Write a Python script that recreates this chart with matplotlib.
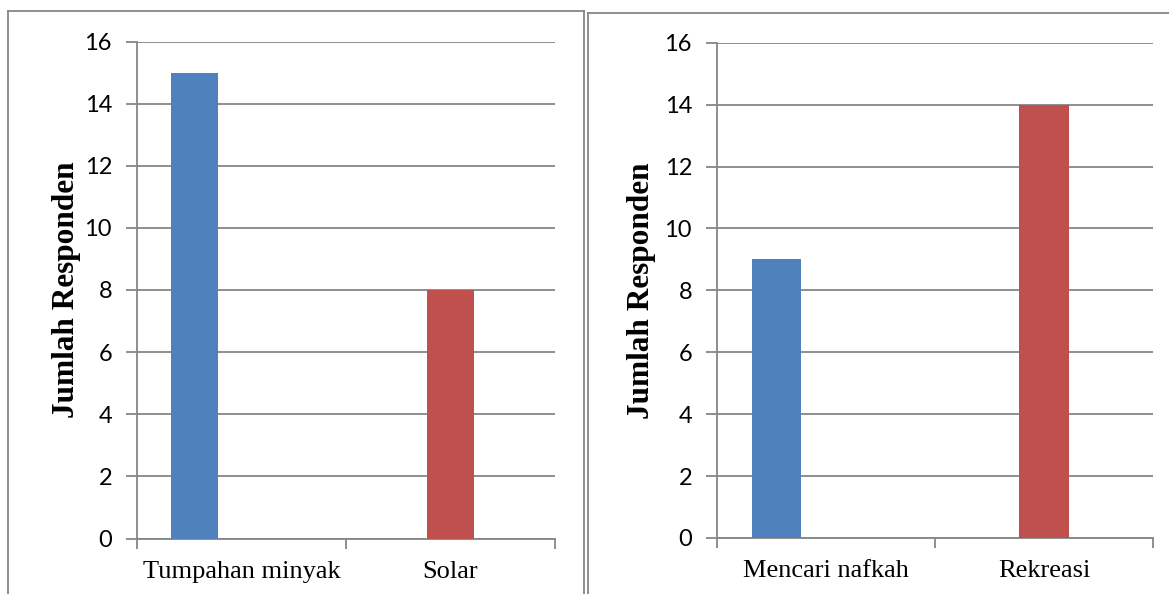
import numpy as np
from matplotlib import pyplot as plt
from matplotlib.lines import Line2D

# data for both panels
kategori_kiri = ["Tumpahan minyak", "Solar"]
nilai_kiri = [15, 8]
kategori_kanan = ["Mencari nafkah", "Rekreasi"]
nilai_kanan = [9, 14]
yticks = [0, 2, 4, 6, 8, 10, 12, 14, 16]
ylabel = "Jumlah Responden"

biru = '#4F81BD'
merah = '#C0504D'
abu = '#868686'

W, H = 1169, 594
fig = plt.figure(figsize=(W/100, H/100), dpi=100)

def px_box(x0, x1, ytop, ybot):
    return [x0/W, 1-ybot/H, (x1-x0)/W, (ybot-ytop)/H]

def frame(x0, x1, ytop):
    # outer border of each chart (bottom/right run off the page)
    kw = dict(color=abu, lw=1.3, transform=fig.transFigure)
    fig.add_artist(Line2D([x0/W, x0/W], [0, 1-ytop/H], **kw))
    fig.add_artist(Line2D([x0/W, x1/W], [1-ytop/H, 1-ytop/H], **kw))
    if x1 < W:
        fig.add_artist(Line2D([x1/W, x1/W], [0, 1-ytop/H], **kw))

def bar_panel(ax, cats, vals, label_x):
    bw = 0.225
    # blue series sits in the left slot, red in the centre slot
    ax.bar([0 - bw], [vals[0]], width=bw, color=biru, zorder=3)
    ax.bar([1], [vals[1]], width=bw, color=merah, zorder=3)
    ax.set_xlim(-0.5, 1.5)
    ax.set_ylim(0, 16)
    ax.set_yticks(yticks)
    ax.set_yticklabels([str(v) for v in yticks], family='Lato', fontsize=17)
    ax.yaxis.grid(True, color=abu, lw=1.3, zorder=0)
    ax.tick_params(axis='y', direction='out', length=8, width=1.3, color=abu, pad=10)
    ax.set_xticks([-0.5, 0.5, 1.5])
    ax.set_xticklabels([])
    ax.tick_params(axis='x', which='major', direction='out', length=7, width=1.3, color=abu)
    ax.set_xticks([0, 1], minor=True)
    ax.set_xticklabels(cats, minor=True, family='Liberation Serif', fontsize=19)
    ax.tick_params(axis='x', which='minor', length=0, pad=16)
    for s in ['top', 'right']:
        ax.spines[s].set_visible(False)
    for s in ['left', 'bottom']:
        ax.spines[s].set_color(abu)
        ax.spines[s].set_linewidth(1.3)
    ax.set_ylabel(ylabel, family='Liberation Serif', fontweight='bold', fontsize=22.5)
    ax.yaxis.set_label_coords(label_x, 0.5)

frame(8, 583.7, 11)
frame(587.7, W + 5, 12.7)

ax1 = fig.add_axes(px_box(137, 555, 41.5, 538.5))
bar_panel(ax1, kategori_kiri, nilai_kiri, -0.134)

ax2 = fig.add_axes(px_box(717, 1153, 42.7, 538))
bar_panel(ax2, kategori_kanan, nilai_kanan, -0.14)

plt.savefig('out.png', dpi=100)
